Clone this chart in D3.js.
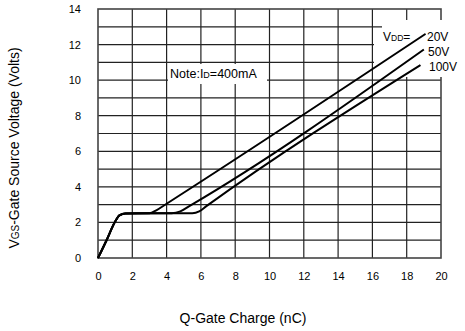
<!DOCTYPE html>
<html>
<head>
<meta charset="utf-8">
<script src="https://cdn.jsdelivr.net/npm/d3@7"></script>
<style>
  body { margin: 0; background: #fff; }
  svg { display: block; font-family: "Liberation Sans", Arial, sans-serif; }
</style>
</head>
<body>
<svg id="chart"></svg>
<script>
const width = 465;
const height = 331;

// x ticks (nC) and y ticks (V)
const xTicks = [0, 2, 4, 6, 8, 10, 12, 14, 16, 18, 20];
const yTicks = [0, 2, 4, 6, 8, 10, 12, 14];

// gate charge curves: [Qg nC, Vgs V]
const vdd20 = [[0, 0], [0.5, 1.0], [1.0, 2.05], [1.25, 2.4], [1.6, 2.5], [3.0, 2.52], [3.4, 2.68], [4.0, 3.05], [19.1, 12.6]];
const vdd50 = [[0, 0], [0.5, 1.0], [1.0, 2.05], [1.25, 2.4], [1.6, 2.5], [4.3, 2.52], [4.8, 2.62], [5.3, 2.9], [19.0, 11.72]];
const vdd100 = [[0, 0], [0.5, 1.0], [1.0, 2.05], [1.25, 2.4], [1.6, 2.5], [5.5, 2.52], [5.9, 2.62], [6.3, 2.9], [18.8, 10.85]];
const seriesLabels = ['20V', '50V', '100V'];

const svg = d3.select('#chart')
    .attr('width', width)
    .attr('height', height);

const x = d3.scaleLinear().domain([0, 20]).range([98, 441]);
const y = d3.scaleLinear().domain([0, 14]).range([258, 9]);

// grid: vertical every 2 nC, horizontal every 1 V
const grid = svg.append('g');
grid.selectAll('line.v').data(xTicks.slice(1, -1))
    .enter().append('line')
    .attr('x1', d => x(d)).attr('x2', d => x(d))
    .attr('y1', y(14)).attr('y2', y(0))
    .attr('stroke', '#222').attr('stroke-width', 1.2);
grid.selectAll('line.h').data(d3.range(1, 14))
    .enter().append('line')
    .attr('x1', x(0)).attr('x2', x(20))
    .attr('y1', d => y(d)).attr('y2', d => y(d))
    .attr('stroke', '#222').attr('stroke-width', 1.2);

svg.append('rect')
    .attr('x', x(0)).attr('y', y(14))
    .attr('width', x(20) - x(0)).attr('height', y(0) - y(14))
    .attr('fill', 'none').attr('stroke', '#444').attr('stroke-width', 1.6);

// axes, ticks hidden, labels only
const xAxis = svg.append('g')
    .attr('transform', `translate(0, ${y(0)})`)
    .call(d3.axisBottom(x).tickValues(xTicks).tickSize(0).tickPadding(14));
const yAxis = svg.append('g')
    .attr('transform', `translate(${x(0) - 17}, 0)`)
    .call(d3.axisLeft(y).tickValues(yTicks).tickSize(0).tickPadding(0));
[xAxis, yAxis].forEach(a => {
    a.select('.domain').remove();
    a.selectAll('text').attr('font-size', 11).attr('fill', '#000')
        .attr('font-family', '"Liberation Sans", Arial, sans-serif');
});

// white boxes behind annotations
svg.append('rect').attr('x', 168).attr('y', 64).attr('width', 99).attr('height', 20).attr('fill', '#fff');
svg.append('rect').attr('x', 382).attr('y', 20).attr('width', 83).attr('height', 10).attr('fill', '#fff');
svg.append('rect').attr('x', 374).attr('y', 29).attr('width', 91).attr('height', 48).attr('fill', '#fff');

// curves
const line = d3.line()
    .x(d => x(d[0]))
    .y(d => y(d[1]))
    .curve(d3.curveMonotoneX);

svg.selectAll('path.curve').data([vdd20, vdd50, vdd100])
    .enter().append('path')
    .attr('class', 'curve')
    .attr('d', line)
    .attr('fill', 'none')
    .attr('stroke', '#000')
    .attr('stroke-width', 2);

// labels
const note = svg.append('text').attr('x', 170).attr('y', 78).attr('font-size', 12.5);
note.append('tspan').text('Note:I');
note.append('tspan').attr('font-size', 9).text('D');
note.append('tspan').text('=400mA');

const vddLabel = svg.append('text').attr('x', 383).attr('y', 41).attr('font-size', 12);
vddLabel.append('tspan').text('V');
vddLabel.append('tspan').attr('font-size', 8.5).text('DD');
vddLabel.append('tspan').text('=');

svg.selectAll('text.series').data(seriesLabels)
    .enter().append('text')
    .attr('class', 'series')
    .attr('x', (d, i) => [427, 428, 429][i])
    .attr('y', (d, i) => [41, 56, 71][i])
    .attr('font-size', 12)
    .text(d => d);

// axis titles
svg.append('text')
    .attr('x', 243).attr('y', 323)
    .attr('text-anchor', 'middle')
    .attr('font-size', 14)
    .text('Q-Gate Charge (nC)');

const yTitle = svg.append('text')
    .attr('transform', 'translate(19, 148) rotate(-90)')
    .attr('text-anchor', 'middle')
    .attr('font-size', 14);
yTitle.append('tspan').text('V');
yTitle.append('tspan').attr('font-size', 10).text('GS');
yTitle.append('tspan').text('-Gate Source Voltage (Volts)');
</script>
</body>
</html>
